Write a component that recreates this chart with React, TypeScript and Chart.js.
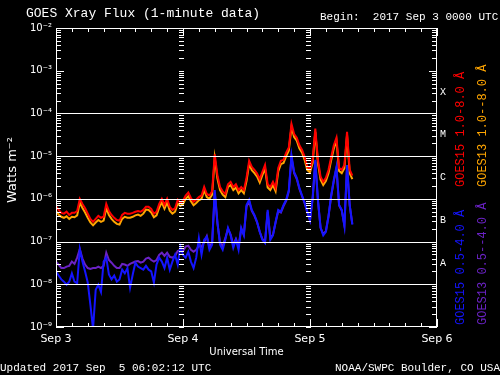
import React, { useEffect, useRef } from 'react';
import { Chart, registerables } from 'chart.js';

Chart.register(...registerables);

// Samples every 30 minutes starting Sep 3 00:00 UTC
const START_HOUR = 0;
const STEP_HOURS = 0.5;

const GOES15_LONG = [
  6.8e-7, 5.5e-7, 4.7e-7, 4.5e-7, 5.0e-7, 4.2e-7, 4.7e-7, 4.7e-7, 5.2e-7, 1.0e-6,
  7.6e-7, 6.0e-7, 4.5e-7, 3.4e-7, 2.9e-7, 3.4e-7, 4.0e-7, 3.6e-7, 3.8e-7, 7.6e-7,
  5.2e-7, 4.2e-7, 3.6e-7, 3.2e-7, 3.1e-7, 4.2e-7, 4.7e-7, 4.5e-7, 4.5e-7, 4.7e-7,
  5.0e-7, 5.2e-7, 5.0e-7, 5.5e-7, 6.5e-7, 6.5e-7, 5.8e-7, 4.5e-7, 5.0e-7, 7.6e-7,
  1.0e-6, 7.2e-7, 1.0e-6, 6.5e-7, 5.5e-7, 6.0e-7, 9.5e-7, 8.1e-7, 9.0e-7, 1.2e-6,
  1.4e-6, 1.05e-6, 8.5e-7, 9.5e-7, 1.1e-6, 1.2e-6, 1.9e-6, 1.3e-6, 1.2e-6, 1.5e-6,
  1.1e-5, 3.6e-6, 1.9e-6, 1.5e-6, 1.3e-6, 2.2e-6, 2.5e-6, 1.9e-6, 2.2e-6, 1.6e-6,
  1.9e-6, 1.6e-6, 3.1e-6, 7.8e-6, 5.6e-6, 4.8e-6, 3.9e-6, 2.9e-6, 4.3e-6, 6.2e-6,
  2.2e-6, 1.9e-6, 2.5e-6, 1.8e-6, 5.3e-6, 7.8e-6, 8.2e-6, 1.2e-5, 1.6e-5, 5.7e-5,
  3.3e-5, 2.7e-5, 1.8e-5, 1.4e-5, 9.5e-6, 5.6e-6, 5.0e-6, 8.2e-6, 4.4e-5, 8.2e-6,
  3.3e-6, 2.5e-6, 3.1e-6, 4.8e-6, 9.5e-6, 1.8e-5, 2.7e-5, 5.3e-6, 4.8e-6, 6.2e-6,
  3.7e-5, 4.8e-6, 3.5e-6,
];

const GOES13_LONG = [
  5.2e-7, 4.3e-7, 3.8e-7, 3.6e-7, 3.9e-7, 3.4e-7, 3.8e-7, 3.7e-7, 4.1e-7, 8.2e-7,
  6.1e-7, 4.8e-7, 3.6e-7, 2.8e-7, 2.4e-7, 2.8e-7, 3.2e-7, 2.9e-7, 3.1e-7, 6.0e-7,
  4.2e-7, 3.4e-7, 2.9e-7, 2.6e-7, 2.5e-7, 3.4e-7, 3.8e-7, 3.6e-7, 3.6e-7, 3.8e-7,
  4.1e-7, 4.3e-7, 4.0e-7, 4.5e-7, 5.6e-7, 5.5e-7, 4.8e-7, 3.7e-7, 4.1e-7, 6.2e-7,
  8.3e-7, 5.9e-7, 8.2e-7, 5.3e-7, 4.5e-7, 5.0e-7, 7.8e-7, 6.8e-7, 7.5e-7, 1.0e-6,
  1.15e-6, 8.8e-7, 7.1e-7, 8.0e-7, 9.2e-7, 1.0e-6, 1.6e-6, 1.1e-6, 1.0e-6, 1.25e-6,
  9.0e-6, 3.0e-6, 1.6e-6, 1.25e-6, 1.1e-6, 1.9e-6, 2.1e-6, 1.6e-6, 1.85e-6, 1.35e-6,
  1.6e-6, 1.35e-6, 2.6e-6, 6.5e-6, 4.7e-6, 4.0e-6, 3.3e-6, 2.4e-6, 3.6e-6, 5.2e-6,
  1.85e-6, 1.6e-6, 2.1e-6, 1.5e-6, 4.4e-6, 6.5e-6, 6.9e-6, 1.0e-5, 1.35e-5, 4.8e-5,
  2.8e-5, 2.3e-5, 1.5e-5, 1.2e-5, 8.0e-6, 4.7e-6, 4.2e-6, 6.9e-6, 3.7e-5, 6.9e-6,
  2.8e-6, 2.1e-6, 2.6e-6, 4.0e-6, 8.0e-6, 1.5e-5, 2.3e-5, 4.5e-6, 4.0e-6, 5.2e-6,
  3.1e-5, 4.0e-6, 2.9e-6,
];

const GOES15_SHORT = [
  2.0e-8, 1.6e-8, 1.3e-8, 1.15e-8, 9.8e-9, 1.15e-8, 1.8e-8, 1.15e-8, 1.05e-8, 6.7e-8,
  3.4e-8, 2.0e-8, 1.1e-8, 3.3e-9, 9.0e-10, 7.4e-9, 9.8e-9, 6.6e-9, 3.4e-8, 4.2e-8,
  1.7e-8, 1.3e-8, 1.6e-8, 1.15e-8, 1.3e-8, 2.2e-8, 1.8e-8, 2.4e-8, 8.3e-9, 1.7e-8,
  3.2e-8, 2.6e-8, 2.4e-8, 2.2e-8, 2.7e-8, 2.2e-8, 2.0e-8, 1.1e-8, 2.9e-8, 4.2e-8,
  3.4e-8, 2.4e-8, 4.2e-8, 2.2e-8, 3.4e-8, 4.9e-8, 2.9e-8, 7.6e-8, 4.9e-8, 4.2e-8,
  5.8e-8, 3.4e-8, 2.4e-8, 4.2e-8, 1.2e-7, 4.9e-8, 1.1e-7, 1.3e-7, 6.4e-8, 8.4e-8,
  1.6e-6, 2.9e-7, 8.4e-8, 6.4e-8, 1.1e-7, 2.1e-7, 1.4e-7, 7.1e-8, 1.1e-7, 6.4e-8,
  2.1e-7, 1.4e-7, 7.2e-7, 9.5e-7, 5.5e-7, 4.2e-7, 2.9e-7, 1.7e-7, 1.1e-7, 9.3e-8,
  5.5e-7, 1.1e-7, 1.4e-7, 2.9e-7, 5.5e-7, 5.0e-7, 7.2e-7, 9.5e-7, 1.6e-6, 1.05e-5,
  4.3e-6, 3.1e-6, 1.8e-6, 1.2e-6, 8.1e-7, 5.0e-7, 3.2e-7, 1.05e-6, 8.2e-6, 9.5e-7,
  2.1e-7, 1.4e-7, 1.7e-7, 4.0e-7, 1.2e-6, 2.8e-6, 5.6e-6, 7.2e-7, 5.5e-7, 2.3e-7,
  6.2e-6, 7.2e-7, 2.5e-7,
];

const GOES13_SHORT = [
  3.4e-8, 2.9e-8, 2.4e-8, 2.4e-8, 2.6e-8, 2.7e-8, 3.4e-8, 3.0e-8, 4.2e-8, 6.7e-8,
  4.0e-8, 2.9e-8, 2.4e-8, 2.3e-8, 2.4e-8, 2.4e-8, 2.6e-8, 2.4e-8, 2.7e-8, 5.5e-8,
  3.7e-8, 3.2e-8, 2.7e-8, 2.4e-8, 2.4e-8, 3.0e-8, 2.9e-8, 2.7e-8, 3.0e-8, 3.2e-8,
  3.4e-8, 3.5e-8, 3.2e-8, 3.4e-8, 4.0e-8, 4.2e-8, 3.7e-8, 3.4e-8, 3.7e-8, 4.9e-8,
  5.5e-8, 4.6e-8, 5.5e-8, 4.4e-8, 4.2e-8, 4.6e-8, 6.0e-8, 6.4e-8, 6.0e-8, 7.6e-8,
  8.0e-8, 6.4e-8, 5.8e-8, 6.4e-8, 8.0e-8, 7.6e-8, 9.8e-8, 1.35e-7, 7.5e-8, 9.5e-8,
  1.4e-6, 2.7e-7, 9.5e-8, 7.8e-8, 1.2e-7, 2.0e-7, 1.45e-7, 8.4e-8, 1.15e-7, 7.8e-8,
  2.0e-7, 1.45e-7, 6.6e-7, 8.8e-7, 5.2e-7, 4.0e-7, 2.8e-7, 1.7e-7, 1.15e-7, 1.0e-7,
  5.0e-7, 1.2e-7, 1.45e-7, 2.8e-7, 5.2e-7, 4.8e-7, 6.8e-7, 9.0e-7, 1.5e-6, 9.5e-6,
  4.0e-6, 2.9e-6, 1.7e-6, 1.15e-6, 7.8e-7, 4.8e-7, 3.1e-7, 1.0e-6, 7.5e-6, 9.0e-7,
  2.1e-7, 1.5e-7, 1.75e-7, 3.9e-7, 1.15e-6, 2.6e-6, 5.2e-6, 7.0e-7, 5.3e-7, 2.4e-7,
  5.8e-6, 7.0e-7, 2.6e-7,
];

const SERIES_LABELS = ['GOES15 1.0-8.0 Å', 'GOES15 0.5-4.0 Å', 'GOES13 1.0--8.0 Å', 'GOES13 0.5--4.0 Å'];
const SERIES_COLORS = ['#ff0000', '#1414ff', '#ffa500', '#6a22c4'];

const DAY_LABELS = ['Sep 3', 'Sep 4', 'Sep 5', 'Sep 6'];
const HOURS_PER_DAY = 24;
const MINOR_X_STEP_HOURS = 3;

const Y_EXPONENTS = [-9, -8, -7, -6, -5, -4, -3, -2];
const Y_TICK_LABELS = ['10⁻⁹', '10⁻⁸', '10⁻⁷', '10⁻⁶', '10⁻⁵', '10⁻⁴', '10⁻³', '10⁻²'];
const Y_MULTIPLIERS = [1, 2, 3, 4, 5, 6, 7, 8, 9];
const GRID_EXPONENTS = [-8, -7, -6, -5, -4];
const FLARE_CLASSES = ['A', 'B', 'C', 'M', 'X'];

const TITLE = 'GOES Xray Flux (1-minute data)';
const BEGIN_TEXT = 'Begin:  2017 Sep 3 0000 UTC';
const X_TITLE = 'Universal Time';
const Y_TITLE = 'Watts m⁻²';
const UPDATED_TEXT = 'Updated 2017 Sep  5 06:02:12 UTC';
const CREDIT_TEXT = 'NOAA/SWPC Boulder, CO USA';

const MONO = '"Liberation Mono", "DejaVu Sans Mono", monospace';
const SANS = '"DejaVu Sans", sans-serif';

function tickValues(): number[] {
  const vals: number[] = [];
  Y_EXPONENTS.forEach((e, i) => {
    if (i === Y_EXPONENTS.length - 1) {
      vals.push(Math.pow(10, e));
      return;
    }
    Y_MULTIPLIERS.forEach((m) => vals.push(m * Math.pow(10, e)));
  });
  return vals;
}

const overlay = {
  id: 'overlay',
  beforeDraw(chart: any) {
    const { ctx, width, height } = chart;
    ctx.save();
    ctx.fillStyle = '#000';
    ctx.fillRect(0, 0, width, height);
    ctx.restore();
  },
  afterDatasetsDraw(chart: any) {
    const { ctx, chartArea: a, scales } = chart;
    const y = scales.y;
    const x = scales.x;
    ctx.save();
    ctx.strokeStyle = '#fff';
    ctx.lineWidth = 1;
    GRID_EXPONENTS.forEach((e) => {
      const py = Math.round(y.getPixelForValue(Math.pow(10, e))) + 0.5;
      ctx.beginPath();
      ctx.moveTo(a.left, py);
      ctx.lineTo(a.right, py);
      ctx.stroke();
    });
    const vals = tickValues();
    const dayXs: number[] = [];
    for (let d = 1; d < DAY_LABELS.length - 1; d++) dayXs.push(x.getPixelForValue(d * HOURS_PER_DAY));
    vals.forEach((v) => {
      const lg = Math.log10(v);
      const major = Math.abs(lg - Math.round(lg)) < 1e-6;
      const len = major ? 8 : 5;
      const py = Math.round(y.getPixelForValue(v)) + 0.5;
      ctx.beginPath();
      ctx.moveTo(a.left, py);
      ctx.lineTo(a.left + len, py);
      ctx.moveTo(a.right, py);
      ctx.lineTo(a.right - len, py);
      dayXs.forEach((dx) => {
        ctx.moveTo(Math.round(dx) - 4, py);
        ctx.lineTo(Math.round(dx) + 1, py);
      });
      ctx.stroke();
    });
    const maxH = HOURS_PER_DAY * (DAY_LABELS.length - 1);
    for (let h = 0; h <= maxH; h += MINOR_X_STEP_HOURS) {
      const px = Math.round(x.getPixelForValue(h)) + 0.5;
      const len = h % HOURS_PER_DAY === 0 ? 8 : 4;
      ctx.beginPath();
      ctx.moveTo(px, a.bottom);
      ctx.lineTo(px, a.bottom - len);
      ctx.moveTo(px, a.top);
      ctx.lineTo(px, a.top + len);
      ctx.stroke();
    }
    ctx.strokeRect(a.left + 0.5, a.top + 0.5, a.right - a.left - 1, a.bottom - a.top - 1);
    ctx.restore();
  },
  afterDraw(chart: any) {
    const { ctx, chartArea: a, scales } = chart;
    const y = scales.y;
    ctx.save();
    ctx.fillStyle = '#fff';
    ctx.textBaseline = 'middle';
    ctx.textAlign = 'left';
    ctx.font = '13px ' + MONO;
    ctx.fillText(TITLE, 26, 14);
    ctx.font = '11px ' + MONO;
    ctx.fillText(BEGIN_TEXT, 320, 17);
    ctx.fillText(UPDATED_TEXT, 0, 368);
    ctx.textAlign = 'right';
    ctx.fillText(CREDIT_TEXT, 500, 368);
    ctx.textAlign = 'center';
    ctx.font = '10px ' + SANS;
    ctx.fillText(X_TITLE, (a.left + a.right) / 2, 352);
    ctx.font = '10px ' + MONO;
    GRID_EXPONENTS.forEach((e, i) => {
      const py = y.getPixelForValue(Math.pow(10, e + 0.5));
      ctx.fillText(FLARE_CLASSES[i], a.right + 6, py);
    });
    ctx.save();
    ctx.translate(13, 170);
    ctx.rotate(-Math.PI / 2);
    ctx.font = '13px ' + SANS;
    ctx.fillText(Y_TITLE, 0, 0);
    ctx.restore();
    const legendPos = [
      [461, 187],
      [461, 325],
      [483, 187],
      [483, 325],
    ];
    SERIES_LABELS.forEach((label, i) => {
      ctx.save();
      ctx.translate(legendPos[i][0], legendPos[i][1]);
      ctx.rotate(-Math.PI / 2);
      ctx.textAlign = 'left';
      ctx.font = '12px ' + MONO;
      ctx.fillStyle = SERIES_COLORS[i];
      ctx.fillText(label, 0, 0);
      ctx.restore();
    });
    ctx.restore();
  },
};

export default function App() {
  const ref = useRef<HTMLCanvasElement | null>(null);
  useEffect(() => {
    if (!ref.current) return;
    const series = [GOES15_LONG, GOES15_SHORT, GOES13_LONG, GOES13_SHORT];
    const toPoints = (arr: number[]) => arr.map((v, i) => ({ x: START_HOUR + i * STEP_HOURS, y: v }));
    const yTicks = tickValues();
    const chart = new Chart(ref.current, {
      type: 'line',
      data: {
        datasets: series.map((arr, i) => ({
          label: SERIES_LABELS[i],
          data: toPoints(arr),
          borderColor: SERIES_COLORS[i],
          backgroundColor: SERIES_COLORS[i],
          borderWidth: 2,
          pointRadius: 0,
          tension: 0,
          fill: false,
        })),
      },
      options: {
        animation: false,
        responsive: false,
        events: [],
        layout: { padding: { left: 0, right: 63, top: 28, bottom: 0 } },
        plugins: { legend: { display: false }, tooltip: { enabled: false } },
        scales: {
          x: {
            type: 'linear',
            min: 0,
            max: HOURS_PER_DAY * (DAY_LABELS.length - 1),
            grid: { display: false, drawTicks: false },
            border: { display: false },
            afterFit: (s: any) => {
              s.height = 48;
            },
            ticks: {
              stepSize: HOURS_PER_DAY,
              color: '#fff',
              font: { family: SANS, size: 11 },
              padding: 6,
              maxRotation: 0,
              autoSkip: false,
              callback: (v: any) => DAY_LABELS[Math.round(Number(v) / HOURS_PER_DAY)] ?? '',
            },
          },
          y: {
            type: 'logarithmic',
            min: Math.pow(10, Y_EXPONENTS[0]),
            max: Math.pow(10, Y_EXPONENTS[Y_EXPONENTS.length - 1]),
            grid: { display: false, drawTicks: false },
            border: { display: false },
            afterFit: (s: any) => {
              s.width = 56;
            },
            afterBuildTicks: (s: any) => {
              s.ticks = yTicks.map((v) => ({ value: v }));
            },
            ticks: {
              color: '#fff',
              font: { family: SANS, size: 10 },
              padding: 4,
              autoSkip: false,
              callback: (v: any) => {
                const lg = Math.log10(Number(v));
                const r = Math.round(lg);
                if (Math.abs(lg - r) > 1e-6) return '';
                const idx = Y_EXPONENTS.indexOf(r);
                return idx >= 0 ? Y_TICK_LABELS[idx] : '';
              },
            },
          },
        },
      } as any,
      plugins: [overlay],
    });
    return () => chart.destroy();
  }, []);
  return (
    <div style={{ position: 'fixed', left: 0, top: 0, width: 500, height: 375, background: '#000' }}>
      <canvas ref={ref} width={500} height={375} style={{ display: 'block' }} />
    </div>
  );
}
